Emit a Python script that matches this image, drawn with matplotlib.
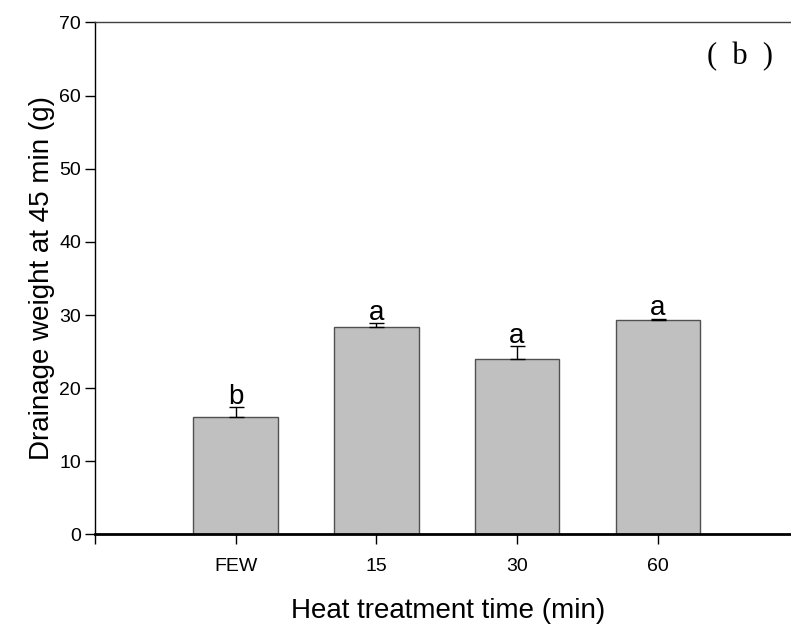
import matplotlib
matplotlib.use("Agg")
import matplotlib.pyplot as plt

categories = ["FEW", "15", "30", "60"]
values = [16.0, 28.3, 24.0, 29.3]
errors = [1.4, 0.6, 1.7, 0.2]
letters = ["b", "a", "a", "a"]
yticks = [0, 10, 20, 30, 40, 50, 60, 70]

plt.rcParams['font.family'] = ['Liberation Sans', 'DejaVu Sans']

fig = plt.figure(figsize=(7.91, 6.26), dpi=100)
ax = fig.add_axes([0.1201, 0.1462, 0.8786, 0.8179])

x = list(range(1, len(categories) + 1))
ax.bar(x, values, width=0.6, color='#c0c0c0', edgecolor='#505050', linewidth=1.0, zorder=2)
ax.errorbar(x, values, yerr=[[0] * len(errors), errors], fmt='none', ecolor='black',
            elinewidth=1.0, capsize=5.4, capthick=1.0, zorder=3)
for xi, v, e, l in zip(x, values, errors, letters):
    ax.text(xi, v + e - 0.35, l, ha='center', va='bottom', fontsize=20)

ax.set_xlim(0, 4.94)
ax.set_ylim(0, 70)
ax.set_xticks([0] + x)
ax.set_xticklabels([''] + categories, fontsize=14)
ax.set_yticks(yticks)
ax.set_yticklabels([str(t) for t in yticks], fontsize=14)
ax.tick_params(axis='both', direction='out', length=7, width=1.0, color='black')
ax.tick_params(axis='x', pad=10)
ax.tick_params(axis='y', pad=3)
ax.spines['right'].set_visible(False)
ax.spines['top'].set_linewidth(1.0)
ax.spines['top'].set_color('#404040')
ax.spines['left'].set_linewidth(1.0)
ax.spines['bottom'].set_linewidth(2.0)

ax.set_ylabel("Drainage weight at 45 min (g)", fontsize=20, labelpad=3)
ax.set_xlabel("Heat treatment time (min)", fontsize=20, labelpad=16)
ax.xaxis.set_label_coords(0.508, -0.125)

ax.text(0.928, 0.933, "(  b  )", transform=ax.transAxes, ha='center', va='center',
        fontsize=22, family=['Liberation Serif', 'DejaVu Serif'])

fig.savefig("out.png", dpi=100)
